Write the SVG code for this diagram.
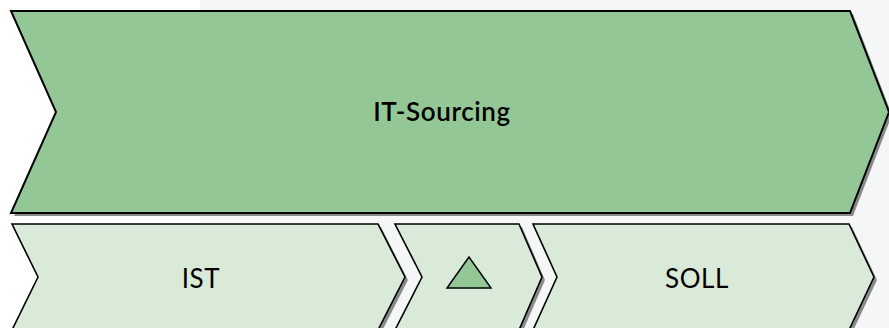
<svg xmlns="http://www.w3.org/2000/svg" width="889" height="328" viewBox="0 0 889 328">
<defs>
<style>
.shadow{fill:#8a8a8a;stroke:none}
.big{fill:#93c796;stroke:#000;stroke-width:2;stroke-linejoin:miter}
.small{fill:#d9ead9;stroke:#000;stroke-width:1.6;stroke-linejoin:miter}
.lbl{font-family:Lato,"Open Sans","Liberation Sans",sans-serif;fill:#000;text-anchor:middle;letter-spacing:0.6px}
</style>
</defs>
<rect width="889" height="328" fill="#ffffff"/>
<rect x="200" y="0" width="689" height="328" fill="#f5f6f6"/>
<g id="it-sourcing">
<polygon class="shadow" points="14,14 853,14 892,115 853,216 14,216 59,115"/>
<polygon class="big" points="11,11 850,11 889,112 850,213 11,213 56,112"/>
<text class="lbl" x="442" y="121" font-size="26" font-weight="600">IT-Sourcing</text>
</g>
<g id="ist">
<polygon class="shadow" points="15,227 381,227 408,280 381,333 15,333 41,280"/>
<polygon class="small" points="12,224 378,224 405,277 378,330 12,330 38,277"/>
<text class="lbl" x="201" y="288" font-size="26">IST</text>
</g>
<g id="delta">
<polygon class="shadow" points="398,227 522,227 545,280 522,333 398,333 425,280"/>
<polygon class="small" points="395,224 519,224 542,277 519,330 395,330 422,277"/>
<polygon points="469,257 447,288 491,288" fill="#93c796" stroke="#000" stroke-width="1.5" stroke-linejoin="miter"/>
</g>
<g id="soll">
<polygon class="shadow" points="536,227 852,227 877,280 852,333 536,333 560,280"/>
<polygon class="small" points="533,224 849,224 874,277 849,330 533,330 557,277"/>
<text class="lbl" x="697" y="288" font-size="26">SOLL</text>
</g>
<g id="connectors"/>
</svg>
